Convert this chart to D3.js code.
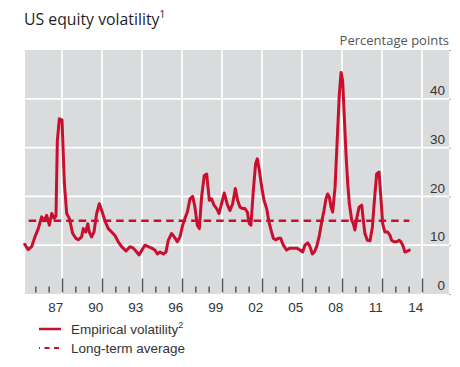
<!DOCTYPE html>
<html>
<head>
<meta charset="utf-8">
<script src="https://cdn.jsdelivr.net/npm/d3@7"></script>
<style>
  html, body { margin: 0; padding: 0; background: #ffffff; }
  svg { display: block; }
</style>
</head>
<body>
<svg id="chart" width="460" height="367"></svg>
<script>
// ---- Data ----
const years = [
  1985.2, 1985.47, 1985.72, 1985.97, 1986.22, 1986.47, 1986.65, 1986.85, 1987.05, 1987.23,
  1987.42, 1987.55, 1987.65, 1987.8, 1988.0, 1988.18, 1988.35, 1988.55, 1988.8, 1989.05,
  1989.22, 1989.47, 1989.6, 1989.78, 1989.93, 1990.05, 1990.22, 1990.4, 1990.6, 1990.8,
  1990.98, 1991.22, 1991.47, 1991.72, 1991.97, 1992.22, 1992.47, 1992.8, 1993.1, 1993.35,
  1993.6, 1993.78, 1994.0, 1994.22, 1994.47, 1994.72, 1994.97, 1995.15, 1995.35, 1995.6,
  1995.8, 1995.97, 1996.22, 1996.42, 1996.65, 1996.85, 1997.05, 1997.22, 1997.4, 1997.6,
  1997.8, 1997.97, 1998.15, 1998.3, 1998.47, 1998.67, 1998.85, 1999.05, 1999.22, 1999.4,
  1999.6, 1999.78, 1999.97, 2000.17, 2000.4, 2000.6, 2000.8, 2001.0, 2001.17, 2001.35,
  2001.55, 2001.72, 2001.9, 2002.05, 2002.17, 2002.35, 2002.52, 2002.65, 2002.8, 2002.98,
  2003.15, 2003.35, 2003.55, 2003.72, 2003.85, 2004.05, 2004.22, 2004.4, 2004.6, 2004.85,
  2005.1, 2005.35, 2005.6, 2005.85, 2006.05, 2006.22, 2006.43, 2006.6, 2006.78, 2006.93,
  2007.1, 2007.28, 2007.48, 2007.65, 2007.8, 2007.92, 2008.05, 2008.18, 2008.3, 2008.48,
  2008.65, 2008.8, 2008.93, 2009.05, 2009.15, 2009.3, 2009.43, 2009.55, 2009.73, 2009.85,
  2009.97, 2010.1, 2010.28, 2010.48, 2010.6, 2010.72, 2010.9, 2011.1, 2011.28, 2011.43,
  2011.6, 2011.78, 2011.93, 2012.05, 2012.22, 2012.43, 2012.6, 2012.72, 2012.9, 2013.1,
  2013.28, 2013.43, 2013.6, 2013.72, 2013.9, 2014.05
];
const volatility = [
  10.2, 9.1, 9.7, 11.7, 13.4, 15.8, 15.0, 16.1, 14.1, 16.5,
  15.5, 16.0, 31.4, 35.9, 35.7, 22.6, 16.5, 15.5, 12.4, 11.4,
  11.1, 11.7, 13.4, 12.7, 14.4, 12.7, 11.7, 12.7, 16.5, 18.5,
  17.1, 15.0, 13.4, 12.7, 12.0, 10.7, 9.7, 8.8, 9.7, 9.4,
  8.6, 8.0, 9.0, 10.0, 9.7, 9.4, 9.0, 8.2, 8.6, 8.2,
  8.6, 11.0, 12.4, 11.7, 10.7, 11.7, 14.1, 15.5, 16.8, 19.5,
  20.0, 17.8, 14.1, 13.4, 19.9, 24.3, 24.6, 19.2, 19.5, 18.2,
  17.5, 16.5, 18.5, 20.7, 18.3, 17.1, 18.5, 21.6, 19.2, 17.8,
  17.5, 17.5, 16.8, 14.4, 14.1, 21.2, 26.7, 27.7, 25.3, 21.9,
  19.2, 17.5, 14.4, 12.7, 11.4, 11.1, 11.4, 11.4, 10.0, 9.0,
  9.4, 9.4, 9.4, 9.0, 8.6, 10.0, 10.5, 9.7, 8.2, 8.6,
  9.7, 11.7, 14.8, 17.1, 19.5, 20.5, 19.9, 17.8, 16.8, 21.9,
  32.1, 41.0, 45.4, 43.7, 37.6, 28.7, 22.6, 18.5, 15.1, 14.4,
  13.1, 15.4, 17.8, 18.2, 15.1, 12.4, 11.0, 10.9, 13.7, 19.2,
  24.6, 25.0, 19.2, 14.4, 12.7, 12.7, 12.0, 11.0, 10.7, 10.7,
  11.0, 10.7, 9.7, 8.6, 8.8, 9.0
];
const longTermAverage = 15.0;
const averageSpan = [1985.5, 2014.05];
const majorTickYears = [1988, 1991, 1994, 1997, 2000, 2003, 2006, 2009, 2012, 2015];
const minorTickYears = d3.range(1986, 2016);
const labelYears = [1987, 1990, 1993, 1996, 1999, 2002, 2005, 2008, 2011, 2014];
const yTicks = [0, 10, 20, 30, 40];
const yGrid = [10, 20, 30, 40];
const titleText = "US equity volatility";
const unitText = "Percentage points";
const legendLabels = ["Empirical volatility", "Long-term average"];

// ---- Layout ----
const RED = "#c8102e";
const panel = { left: 25, right: 449, top: 50, bottom: 294 };
const svg = d3.select("#chart");

const x = d3.scaleLinear().domain([1985.225, 2017.025]).range([panel.left, panel.right]);
const y = d3.scaleLinear().domain([0, 50]).range([panel.bottom, panel.top]);

// Title
const title = svg.append("text")
  .attr("x", 24).attr("y", 25)
  .attr("font-family", "'Open Sans', sans-serif")
  .attr("font-size", 15.8)
  .attr("fill", "#1e1e1e");
title.append("tspan").text(titleText);
title.append("tspan").attr("dy", -7).attr("font-size", 10).text("1");

// Unit label
svg.append("text")
  .attr("x", 449).attr("y", 45)
  .attr("text-anchor", "end")
  .attr("font-family", "'Open Sans', sans-serif")
  .attr("font-size", 13)
  .attr("fill", "#555")
  .text(unitText);

// Panel background
svg.append("rect")
  .attr("x", panel.left).attr("y", panel.top)
  .attr("width", panel.right - panel.left)
  .attr("height", panel.bottom - panel.top)
  .attr("fill", "#dadbdd");

// Gridlines
svg.append("g").selectAll("line").data(yGrid).join("line")
  .attr("x1", panel.left).attr("x2", panel.right)
  .attr("y1", d => y(d)).attr("y2", d => y(d))
  .attr("stroke", "#fff").attr("stroke-width", 1.8);
svg.append("g").selectAll("line").data(majorTickYears).join("line")
  .attr("x1", d => x(d)).attr("x2", d => x(d))
  .attr("y1", panel.top).attr("y2", panel.bottom)
  .attr("stroke", "#fff").attr("stroke-width", 1.8);

// Minor and major ticks (inside, pointing up)
const minorAxis = svg.append("g")
  .attr("transform", `translate(0,${panel.bottom - 1.5})`)
  .call(d3.axisTop(x).tickValues(minorTickYears.filter(v => !majorTickYears.includes(v))).tickSize(6).tickFormat(""));
const majorAxis = svg.append("g")
  .attr("transform", `translate(0,${panel.bottom - 1.5})`)
  .call(d3.axisTop(x).tickValues(majorTickYears).tickSize(14).tickFormat(""));
[minorAxis, majorAxis].forEach(g => {
  g.select(".domain").remove();
  g.selectAll(".tick line").attr("stroke", "#555").attr("stroke-width", 1.5);
});

// X labels (centred on the year)
const xLabelAxis = svg.append("g")
  .attr("transform", `translate(0,${panel.bottom})`)
  .call(d3.axisBottom(x).tickValues(labelYears.map(v => v + 0.5)).tickSize(0).tickPadding(8)
    .tickFormat(d => String(Math.floor(d) % 100).padStart(2, "0")));
xLabelAxis.select(".domain").remove();
xLabelAxis.selectAll("text")
  .attr("font-family", "'Liberation Sans', Arial, sans-serif")
  .attr("font-size", 13.5)
  .attr("fill", "#333");

// Y labels (inside the panel on the right, above gridlines)
const yAxis = svg.append("g")
  .attr("transform", `translate(445,0)`)
  .call(d3.axisLeft(y).tickValues(yTicks).tickSize(0).tickPadding(0));
yAxis.select(".domain").remove();
yAxis.selectAll("text")
  .attr("dy", "-0.32em")
  .attr("font-family", "'Liberation Sans', Arial, sans-serif")
  .attr("font-size", 13.5)
  .attr("fill", "#333");

// tiny right-edge ticks
const yTickMarks = svg.append("g")
  .attr("transform", `translate(${panel.right},0)`)
  .call(d3.axisRight(y).tickValues([0, 10, 20, 30, 40, 50]).tickSize(2).tickFormat(""));
yTickMarks.select(".domain").remove();
yTickMarks.selectAll(".tick line").attr("stroke", "#aaa").attr("stroke-width", 1);

// Long-term average
svg.append("line")
  .attr("x1", x(averageSpan[0])).attr("x2", x(averageSpan[1]))
  .attr("y1", y(longTermAverage)).attr("y2", y(longTermAverage))
  .attr("stroke", RED).attr("stroke-width", 2.4)
  .attr("stroke-dasharray", "7.5,5");

// Volatility line
const series = years.map((t, i) => ({ t, v: volatility[i] }));
svg.append("path")
  .datum(series)
  .attr("fill", "none")
  .attr("stroke", RED)
  .attr("stroke-width", 3)
  .attr("stroke-linejoin", "round")
  .attr("stroke-linecap", "round")
  .attr("d", d3.line().x(d => x(d.t)).y(d => y(d.v)).curve(d3.curveLinear));

// Legend
const legend = svg.append("g")
  .attr("font-family", "'Liberation Sans', Arial, sans-serif")
  .attr("font-size", 13.5)
  .attr("fill", "#333");
legend.append("line")
  .attr("x1", 39).attr("x2", 61).attr("y1", 329).attr("y2", 329)
  .attr("stroke", RED).attr("stroke-width", 2.5);
const l1 = legend.append("text").attr("x", 71).attr("y", 333.5);
l1.append("tspan").text(legendLabels[0]);
l1.append("tspan").attr("dy", -6).attr("font-size", 9).text("2");
legend.append("line")
  .attr("x1", 39).attr("x2", 61).attr("y1", 348).attr("y2", 348)
  .attr("stroke", RED).attr("stroke-width", 2)
  .attr("stroke-dasharray", "5,4.5").attr("stroke-dashoffset", 4);
legend.append("text").attr("x", 71).attr("y", 352.5).text(legendLabels[1]);
</script>
</body>
</html>
